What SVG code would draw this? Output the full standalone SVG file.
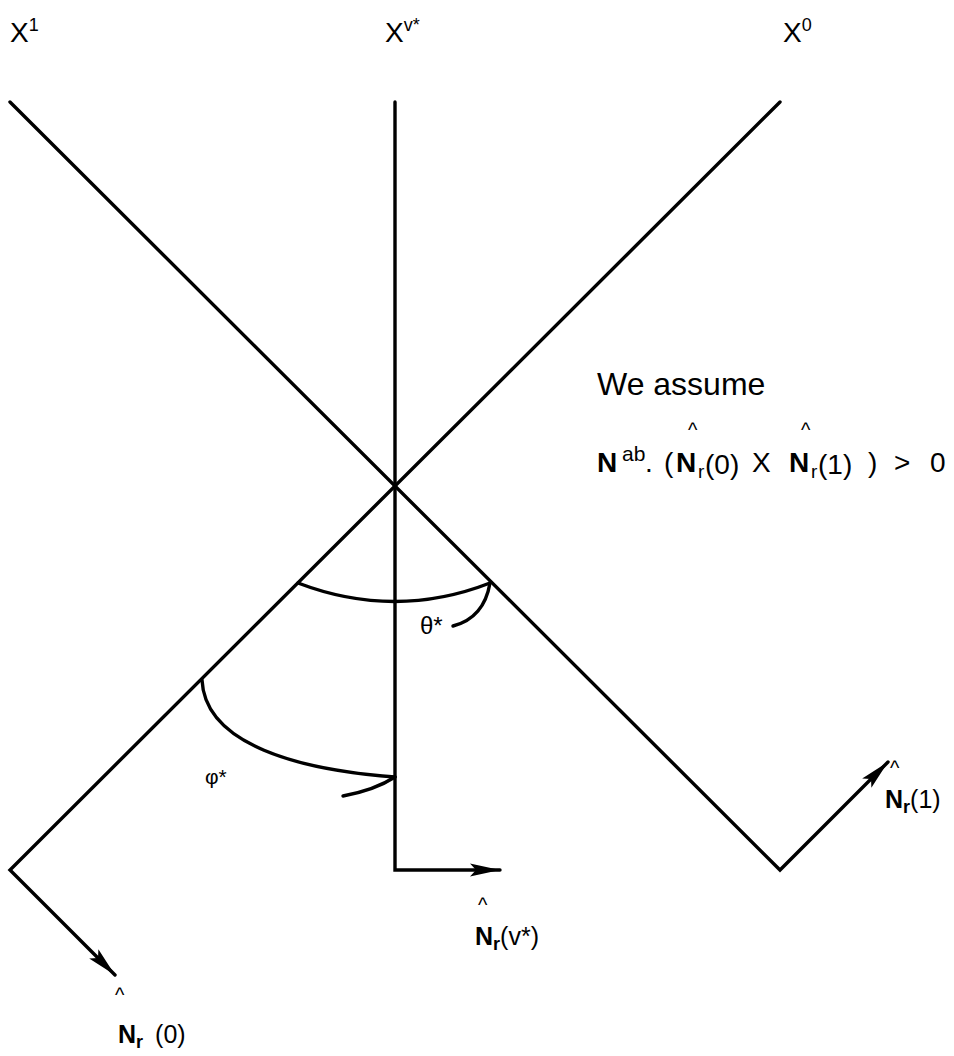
<svg xmlns="http://www.w3.org/2000/svg" width="954" height="1056" viewBox="0 0 954 1056">
<defs>
<style>
.ln{fill:none;stroke:#000;stroke-width:3.4;stroke-linecap:round;stroke-linejoin:miter}
.t{font-family:"Liberation Sans",Arial,sans-serif;fill:#000}
.b{font-weight:bold}
</style>
<marker id="ah" markerUnits="userSpaceOnUse" markerWidth="32" markerHeight="16" refX="30" refY="8" orient="auto">
<path d="M0,1.5 L30,8 L0,14.5 L6,8 Z" fill="#000"/>
</marker>
</defs>
<rect width="954" height="1056" fill="#fff"/>
<g id="labels-top">
<text class="t" x="10" y="42" font-size="28">X<tspan font-size="18" dy="-11">1</tspan></text>
<text class="t" x="385" y="42" font-size="28">X<tspan font-size="18" dy="-11">v*</tspan></text>
<text class="t" x="783" y="42" font-size="28">X<tspan font-size="18" dy="-11">0</tspan></text>
</g>
<g id="connectors">
<path class="ln" d="M10,102 L780,870 L888,762" marker-end="url(#ah)"/>
<path class="ln" d="M780,102 L10,870 L115,975" marker-end="url(#ah)"/>
<path class="ln" d="M395,102 L395,870 L500,870" marker-end="url(#ah)"/>
</g>
<g id="theta">
<path class="ln" d="M298,583 Q395,620 490,583"/>
<path class="ln" d="M490,583 Q484,618 453,626"/>
<text class="t" x="420" y="634" font-size="24">θ*</text>
</g>
<g id="phi">
<path class="ln" d="M202,680 C205,745 300,770 395,777"/>
<path class="ln" d="M395,777 Q375,790 343,796"/>
<text class="t" x="205" y="784" font-size="21">φ*</text>
</g>
<g id="n-vstar">
<text class="t" x="478" y="912" font-size="20">^</text>
<text class="t b" x="475" y="945" font-size="25">N<tspan font-size="18" dy="5">r</tspan><tspan font-size="25" dy="-5" font-weight="normal">(v*)</tspan></text>
</g>
<g id="n-0">
<text class="t" x="115" y="1002" font-size="20">^</text>
<text class="t b" x="118" y="1043" font-size="25">N<tspan font-size="18" dy="5">r</tspan><tspan font-size="25" dy="-5" font-weight="normal" dx="12">(0)</tspan></text>
</g>
<g id="n-1">
<text class="t" x="890" y="775" font-size="20">^</text>
<text class="t b" x="885" y="808" font-size="25">N<tspan font-size="18" dy="5">r</tspan><tspan font-size="25" dy="-5" font-weight="normal">(1)</tspan></text>
</g>
<g id="assumption">
<text class="t" x="597" y="395" font-size="32">We assume</text>
<text class="t" x="688" y="437" font-size="20">^</text>
<text class="t" x="801" y="437" font-size="20">^</text>
<text class="t" y="472" font-size="28"><tspan class="b" x="597">N</tspan><tspan font-size="21" x="622" y="461">ab</tspan><tspan x="645" y="472">.</tspan><tspan x="664">(</tspan><tspan class="b" x="676">N</tspan><tspan font-size="19" x="698" y="478">r</tspan><tspan x="705" y="474">(0)</tspan><tspan x="752" y="472">X</tspan><tspan class="b" x="789">N</tspan><tspan font-size="19" x="811" y="478">r</tspan><tspan x="818" y="474">(1)</tspan><tspan x="868" y="472">)</tspan><tspan x="894">&gt;</tspan><tspan x="930">0</tspan></text>
</g>
</svg>
